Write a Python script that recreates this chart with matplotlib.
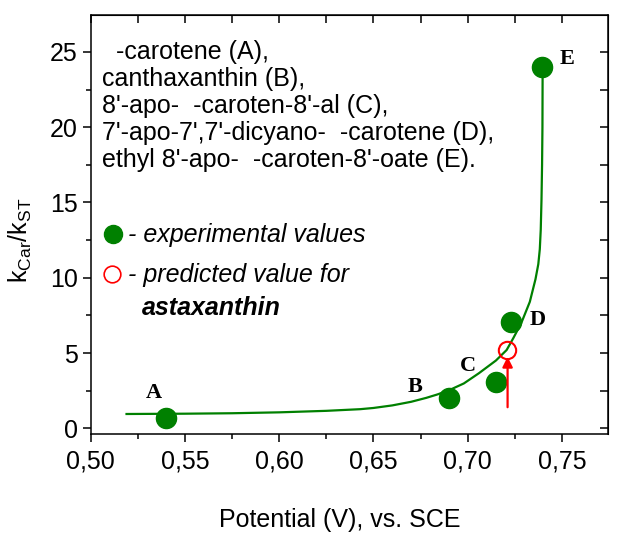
import numpy as np
import matplotlib.pyplot as plt
from matplotlib.ticker import MultipleLocator, FuncFormatter

plt.rcParams['font.family'] = ['Liberation Sans', 'DejaVu Sans']
plt.rcParams['mathtext.default'] = 'regular'

# experimental points A..E
exp_x = [0.540, 0.690, 0.715, 0.7228, 0.7395]
exp_y = [0.66, 1.99, 3.06, 7.07, 24.0]
point_names = ['A', 'B', 'C', 'D', 'E']
name_x = [0.5336, 0.672, 0.7003, 0.7374, 0.7525]
name_y = [2.36, 2.76, 4.17, 7.17, 24.56]

# predicted value for astaxanthin
pred_x = 0.7207
pred_y = 5.22

# fitted curve
curve_x = [0.519, 0.550, 0.575, 0.600, 0.625, 0.643, 0.650, 0.660, 0.670, 0.678,
           0.684, 0.690, 0.698, 0.706, 0.715, 0.7207, 0.7242, 0.7285, 0.733, 0.736,
           0.7375, 0.7383, 0.7388, 0.7392, 0.7395, 0.7397, 0.7398]
curve_y = [0.95, 0.97, 1.00, 1.06, 1.16, 1.27, 1.35, 1.52, 1.76, 2.02,
           2.25, 2.52, 2.98, 3.66, 4.50, 5.20, 5.98, 7.00, 8.40, 9.90,
           10.9, 11.9, 13.2, 15.2, 17.5, 20.0, 24.0]

names_text = ["  -carotene (A),",
              "canthaxanthin (B),",
              "8'-apo-  -caroten-8'-al (C),",
              "7'-apo-7',7'-dicyano-  -carotene (D),",
              "ethyl 8'-apo-  -caroten-8'-oate (E)."]
names_text_y = [25.0, 23.2, 21.4, 19.6, 17.8]

green = '#008000'
red = '#ff0000'

fig = plt.figure(figsize=(6.24, 5.4), dpi=100)
ax = fig.add_axes([0.1454, 0.1957, 0.829, 0.7765])

ax.plot(curve_x, curve_y, color=green, lw=1.6, zorder=2)
ax.plot(exp_x, exp_y, 'o', color=green, ms=14.5, zorder=3)
ax.plot([pred_x], [pred_y], 'o', mfc='none', mec=red, mew=1.5, ms=12.5, zorder=4)
ax.annotate('', xy=(0.7212, 4.75), xytext=(0.7212, 1.4),
            arrowprops=dict(arrowstyle='-|>', color=red, lw=1.6,
                            mutation_scale=15, shrinkA=0, shrinkB=0))

for nx, ny, nm in zip(name_x, name_y, point_names):
    ax.text(nx, ny, nm, family='Liberation Serif', fontweight='bold',
            fontsize=16, ha='center', va='center')

for t, ty in zip(names_text, names_text_y):
    ax.text(0.5058, ty, t, fontsize=18, ha='left', va='center')

# legend drawn as text
ax.plot([0.512], [12.89], 'o', color=green, ms=13)
ax.text(0.5198, 12.85, '- experimental values', fontsize=18, style='italic', va='center')
ax.plot([0.5111], [10.25], 'o', mfc='none', mec=red, mew=1.2, ms=12)
ax.text(0.5198, 10.2, '- predicted value for', fontsize=18, style='italic', va='center')
ax.text(0.527, 7.99, 'astaxanthin', fontsize=18, style='italic',
        fontweight='bold', va='center')

ax.set_xlim(0.50, 0.7745)
ax.set_ylim(-0.4, 27.45)

ax.xaxis.set_major_locator(MultipleLocator(0.05))
ax.xaxis.set_minor_locator(MultipleLocator(0.025))
ax.yaxis.set_major_locator(MultipleLocator(5))
ax.yaxis.set_minor_locator(MultipleLocator(2.5))
ax.xaxis.set_major_formatter(FuncFormatter(lambda v, p: f'{v:.2f}'.replace('.', ',')))
ax.yaxis.set_major_formatter(FuncFormatter(lambda v, p: f'{v:.0f}'))

ax.tick_params(which='major', direction='out', length=6, width=1.1, labelsize=18)
ax.tick_params(axis='x', which='major', pad=5)
ax.tick_params(which='minor', direction='out', length=3.5, width=1.1)
for s in ax.spines.values():
    s.set_linewidth(1.1)

top = ax.secondary_xaxis('top')
top.xaxis.set_major_locator(MultipleLocator(0.05))
top.xaxis.set_minor_locator(MultipleLocator(0.025))
top.tick_params(which='both', direction='in', length=6, width=1.1, labeltop=False)
right = ax.secondary_yaxis('right')
right.yaxis.set_major_locator(MultipleLocator(5))
right.yaxis.set_minor_locator(MultipleLocator(2.5))
right.tick_params(which='both', direction='in', length=6, width=1.1, labelright=False)

ax.set_xlabel('Potential (V), vs. SCE', fontsize=18)
ax.set_ylabel('k$_{Car}$/k$_{ST}$', fontsize=18)
ax.xaxis.set_label_coords(0.482, -0.175)
ax.yaxis.set_label_coords(-0.11, 0.463)

fig.savefig('out.png', dpi=100)
